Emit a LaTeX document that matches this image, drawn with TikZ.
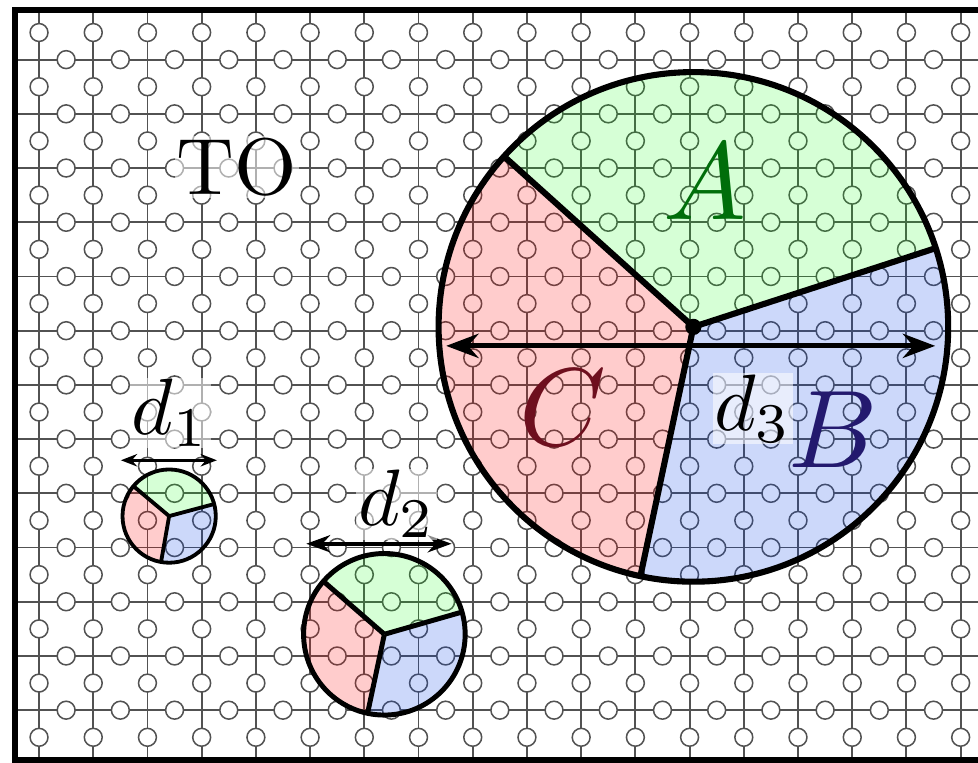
\documentclass[tikz,border=0pt]{standalone}
\usetikzlibrary{arrows.meta}

\definecolor{bleuB}{RGB}{0,60,230}
\definecolor{texteA}{RGB}{0,110,10}
\definecolor{texteB}{RGB}{35,25,110}
\definecolor{texteC}{RGB}{110,15,30}

\tikzset{
  grille/.style={black!68, line width=1pt},
  rond/.style={black!68, line width=0.8pt, fill=white},
  etiq/.style={fill=white, fill opacity=0.55, text opacity=1, inner sep=0.2pt, scale=4.2},
  lettre/.style={inner sep=0pt, scale=5.8},
}

\begin{document}
\begin{tikzpicture}
            % Cadre de la figure
            \clip (-0.72,-0.96) rectangle (17.32,13.10);

            % Grille avec ses petits cercles
            \foreach \x in {0,...,17}
              \draw[grille] (\x,-0.92) -- (\x,12.92);
            \foreach \y in {0,...,12}
              \draw[grille] (-0.44,\y) -- (17.8,\y);
            \foreach \x in {0,...,17}
              \foreach \y in {-0.5,0.5,...,12.5}
                \draw[rond] (\x,\y) circle (0.165);
            \foreach \x in {0.5,1.5,...,16.5}
              \foreach \y in {0,...,12}
                \draw[rond] (\x,\y) circle (0.165);

            % Bord épais
            \draw[line width=3pt] (-0.44,-0.92) rectangle (17.9,12.92);
            \node[etiq] (TO) at (3.65,10.02) {TO};

            % Disques découpés en trois secteurs A, B, C
            \foreach \n/\cx/\cy/\r/\lw/\ta/\tb/\tc in {1/2.40/3.58/0.86/2pt/15/140/260,
                2/6.37/1.40/1.49/2.6pt/16/139/258, 3/12.07/7.07/4.70/3.2pt/18/138/258} {
              \coordinate (O\n) at (\cx,\cy);
              \path (O\n) ++(\ta:\r) coordinate (P\n a);
              \path (O\n) ++(\tb:\r) coordinate (P\n b);
              \path (O\n) ++(\tc:\r) coordinate (P\n c);
              \fill[green, fill opacity=0.16] (O\n) -- (P\n a) arc[start angle=\ta, end angle=\tb, radius=\r] -- cycle;
              \fill[red, fill opacity=0.2] (O\n) -- (P\n b) arc[start angle=\tb, end angle=\tc, radius=\r] -- cycle;
              \fill[bleuB, fill opacity=0.2] (O\n) -- (P\n c) arc[start angle=\tc, end angle=\ta+360, radius=\r] -- cycle;
              \draw[line width=\lw] (O\n) circle (\r);
              \draw[line width=\lw] (O\n) -- (P\n a);
              \draw[line width=\lw] (O\n) -- (P\n b);
              \draw[line width=\lw] (O\n) -- (P\n c);
            }
            \fill (O3) circle (0.15);

            % Diamètres d1, d2, d3
            \coordinate (G1) at (1.51,4.61);
            \coordinate (D1) at (3.28,4.61);
            \coordinate (G2) at (4.93,3.07);
            \coordinate (D2) at (7.61,3.07);
            \coordinate (G3) at (7.51,6.72);
            \coordinate (D3) at (16.53,6.72);
            \draw[{Stealth[length=8.5pt, width=6.5pt]}-{Stealth[length=8.5pt, width=6.5pt]}, line width=1.5pt] (G1) -- (D1);
            \draw[{Stealth[length=12.5pt, width=9pt]}-{Stealth[length=12.5pt, width=9pt]}, line width=2pt] (G2) -- (D2);
            \draw[{Stealth[length=17pt, width=12.7pt]}-{Stealth[length=17pt, width=12.7pt]}, line width=2.6pt] (G3) -- (D3);
            \node[etiq] (d1) at (2.42,5.48) {$d_1$};
            \node[etiq] (d2) at (6.60,3.80) {$d_2$};
            \node[etiq] (d3) at (13.17,5.57) {$d_3$};

            % Noms des secteurs
            \node[lettre, text=texteA] (A) at (12.29,9.74) {$A$};
            \node[lettre, text=texteB] (B) at (14.65,5.17) {$B$};
            \node[lettre, text=texteC] (C) at (9.67,5.57) {$C$};
\end{tikzpicture}
\end{document}
